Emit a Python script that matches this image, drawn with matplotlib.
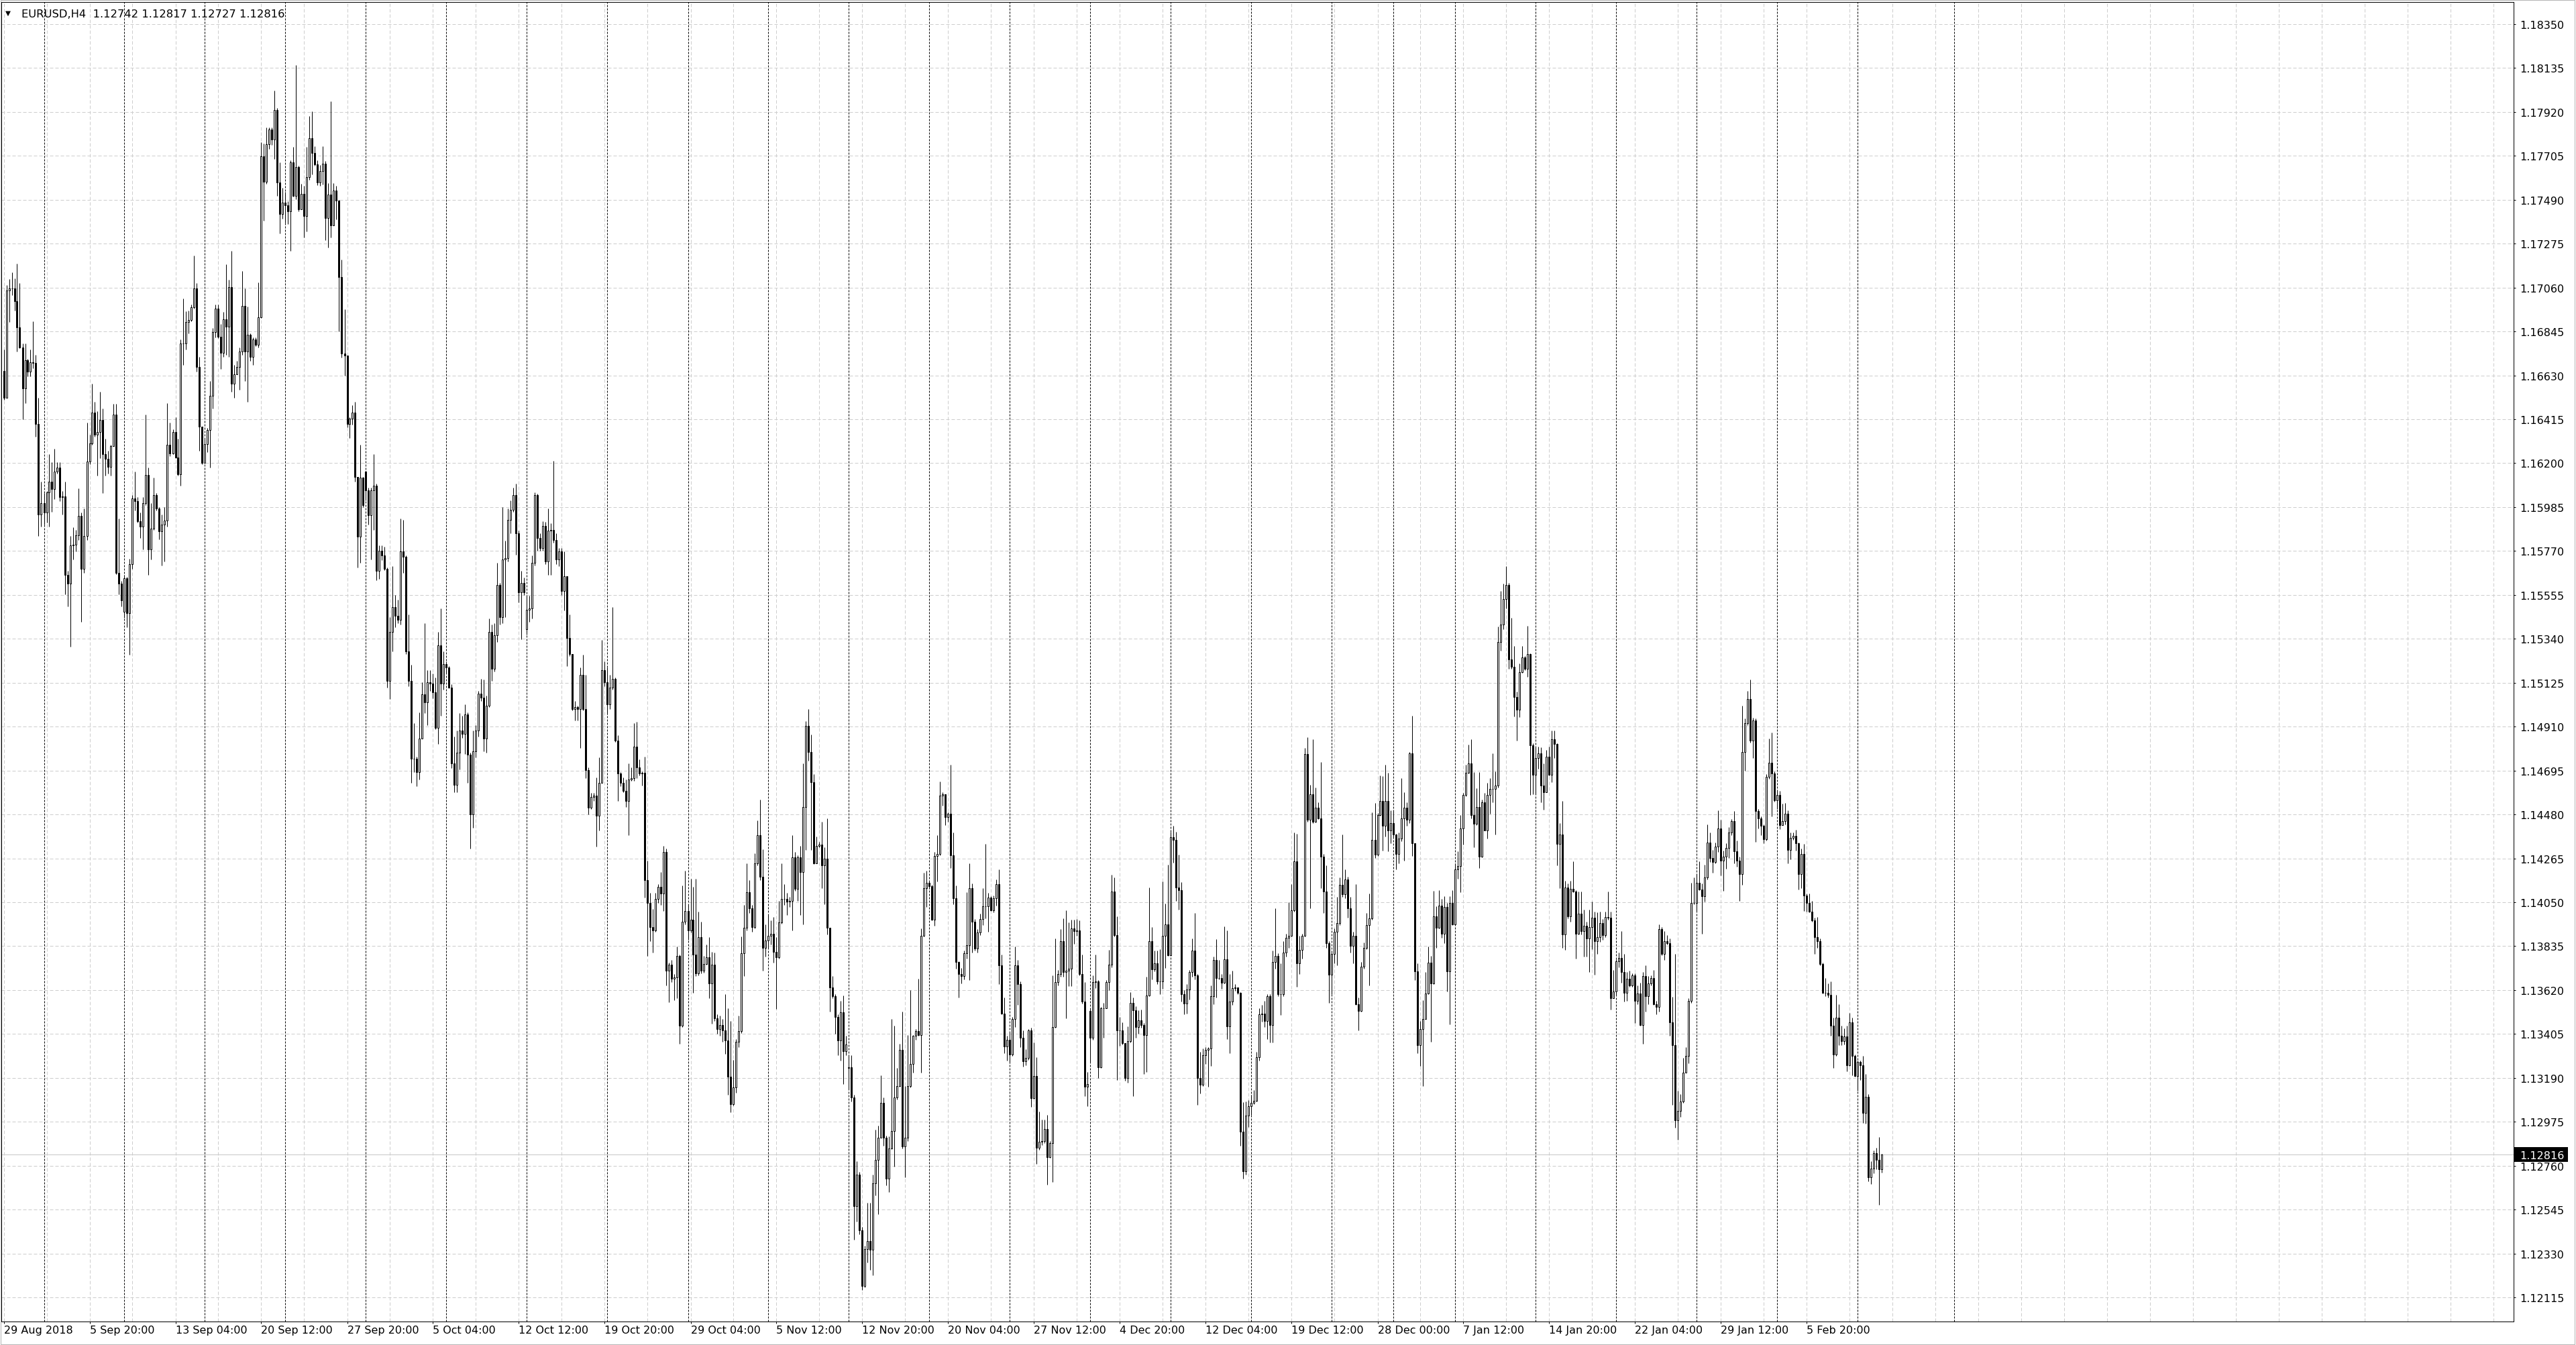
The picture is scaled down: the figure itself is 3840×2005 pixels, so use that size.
import matplotlib
matplotlib.use("Agg")
import matplotlib.pyplot as plt
import matplotlib.transforms as mtransforms
from matplotlib.patches import Rectangle
import numpy as np

plt.rcParams['font.family'] = ['DejaVu Sans']

#=== data (EURUSD H4, 29 Aug 2018 12:00 onwards) ===
symbol = "EURUSD,H4"
first_open = 1.16653

closes = [
    1.16520, 1.17047, 1.17057, 1.17057, 1.16992, 1.16866, 1.16767, 1.16567, 1.16704, 1.16647,
    1.16695, 1.16691, 1.16392, 1.15948, 1.16005, 1.15958, 1.16057, 1.16110, 1.16072, 1.16158,
    1.16180, 1.16034, 1.16038, 1.15653, 1.15611, 1.15796, 1.15801, 1.15847, 1.15942, 1.15681,
    1.15843, 1.16209, 1.16297, 1.16449, 1.16339, 1.16354, 1.16411, 1.16243, 1.16220, 1.16182,
    1.16285, 1.16438, 1.15662, 1.15611, 1.15529, 1.15638, 1.15466, 1.15706, 1.16028, 1.16015,
    1.15916, 1.15891, 1.16005, 1.16142, 1.15777, 1.15878, 1.16043, 1.15977, 1.15866, 1.15900,
    1.15919, 1.16289, 1.16247, 1.16354, 1.16228, 1.16144, 1.16786, 1.16786, 1.16891, 1.16901,
    1.16963, 1.17057, 1.16672, 1.16380, 1.16200, 1.16295, 1.16361, 1.16529, 1.16843, 1.16958,
    1.16819, 1.16739, 1.16904, 1.16868, 1.17062, 1.16590, 1.16634, 1.16672, 1.16748, 1.16969,
    1.16748, 1.16828, 1.16720, 1.16805, 1.16781, 1.16914, 1.17701, 1.17577, 1.17762, 1.17834,
    1.17786, 1.17929, 1.17573, 1.17421, 1.17476, 1.17463, 1.17434, 1.17672, 1.17510, 1.17649,
    1.17443, 1.17520, 1.17409, 1.17600, 1.17790, 1.17720, 1.17663, 1.17573, 1.17630, 1.17667,
    1.17401, 1.17515, 1.17365, 1.17534, 1.17486, 1.17112, 1.16738, 1.16726, 1.16393, 1.16419,
    1.16448, 1.16134, 1.15840, 1.16129, 1.15994, 1.16067, 1.15946, 1.16067, 1.16091, 1.15671,
    1.15772, 1.15748, 1.15681, 1.15133, 1.15374, 1.15495, 1.15454, 1.15434, 1.15767, 1.15743,
    1.15278, 1.15133, 1.14754, 1.14754, 1.14686, 1.14850, 1.15068, 1.15029, 1.15126, 1.15121,
    1.15077, 1.14904, 1.15309, 1.15121, 1.15217, 1.15198, 1.15101, 1.14730, 1.14626, 1.14783,
    1.14892, 1.14875, 1.14971, 1.14771, 1.14481, 1.14788, 1.14892, 1.15072, 1.15053, 1.14850,
    1.15012, 1.15374, 1.15193, 1.15357, 1.15603, 1.15447, 1.15729, 1.15736, 1.15922, 1.15970,
    1.16043, 1.15857, 1.15567, 1.15615, 1.15567, 1.15483, 1.15488, 1.15712, 1.16043, 1.15833,
    1.15784, 1.15893, 1.15719, 1.15869, 1.15874, 1.15825, 1.15729, 1.15767, 1.15574, 1.15647,
    1.15343, 1.15266, 1.14995, 1.15005, 1.14995, 1.15164, 1.14995, 1.14698, 1.14513, 1.14566,
    1.14571, 1.14474, 1.14633, 1.15188, 1.15126, 1.15019, 1.15101, 1.15145, 1.14843, 1.14682,
    1.14633, 1.14595, 1.14546, 1.14650, 1.14657, 1.14812, 1.14709, 1.14680, 1.14684, 1.14158,
    1.14047, 1.13930, 1.13911, 1.14067, 1.14125, 1.14092, 1.14295, 1.13716, 1.13745, 1.13677,
    1.13683, 1.13788, 1.13444, 1.13956, 1.14008, 1.13911, 1.13964, 1.13794, 1.13703, 1.13878,
    1.13716, 1.13749, 1.13780, 1.13652, 1.13745, 1.13483, 1.13430, 1.13449, 1.13424, 1.13372,
    1.13196, 1.13060, 1.13142, 1.13366, 1.13418, 1.13800, 1.13925, 1.14100, 1.14022, 1.13930,
    1.14242, 1.14378, 1.14174, 1.13827, 1.13862, 1.13886, 1.13897, 1.13806, 1.13780, 1.13950,
    1.14067, 1.14067, 1.14053, 1.14057, 1.14271, 1.14115, 1.14271, 1.14197, 1.14515, 1.14914,
    1.14787, 1.14637, 1.14242, 1.14326, 1.14334, 1.14232, 1.14262, 1.13925, 1.13632, 1.13590,
    1.13488, 1.13372, 1.13512, 1.13321, 1.13352, 1.13243, 1.13093, 1.12561, 1.12717, 1.12445,
    1.12172, 1.12353, 1.12392, 1.12347, 1.12674, 1.12787, 1.12898, 1.13068, 1.12898, 1.12698,
    1.12846, 1.12931, 1.13093, 1.13151, 1.13327, 1.12854, 1.12898, 1.13151, 1.13259, 1.13395,
    1.13418, 1.13399, 1.13886, 1.14119, 1.14145, 1.14129, 1.13964, 1.14275, 1.14287, 1.14573,
    1.14579, 1.14466, 1.14482, 1.14281, 1.14069, 1.13758, 1.13700, 1.13690, 1.13799, 1.13839,
    1.14118, 1.13956, 1.13824, 1.13902, 1.13967, 1.14030, 1.14030, 1.14074, 1.14011, 1.14069,
    1.14140, 1.13741, 1.13506, 1.13345, 1.13377, 1.13304, 1.13477, 1.13741, 1.13649, 1.13385,
    1.13272, 1.13289, 1.13421, 1.13092, 1.13199, 1.12847, 1.12876, 1.12879, 1.12941, 1.12803,
    1.12872, 1.13439, 1.13659, 1.13697, 1.13861, 1.13707, 1.13714, 1.13726, 1.13923, 1.13908,
    1.13912, 1.13700, 1.13565, 1.13146, 1.13160, 1.13385, 1.13659, 1.13663, 1.13243, 1.13531,
    1.13531, 1.13659, 1.13744, 1.14103, 1.13890, 1.13424, 1.13421, 1.13360, 1.13190, 1.13370,
    1.13556, 1.13521, 1.13439, 1.13473, 1.13448, 1.13399, 1.13594, 1.13861, 1.13722, 1.13751,
    1.13663, 1.13663, 1.13887, 1.13942, 1.13791, 1.14367, 1.14356, 1.14122, 1.14110, 1.13600,
    1.13553, 1.13624, 1.13707, 1.13814, 1.13693, 1.13190, 1.13155, 1.13301, 1.13326, 1.13333,
    1.13590, 1.13766, 1.13678, 1.13678, 1.13656, 1.13770, 1.13443, 1.13565, 1.13629, 1.13634,
    1.13605, 1.12926, 1.12733, 1.13004, 1.13052, 1.13067, 1.13077, 1.13292, 1.13502, 1.13506,
    1.13468, 1.13591, 1.13449, 1.13758, 1.13787, 1.13599, 1.13599, 1.13803, 1.13876, 1.13887,
    1.14009, 1.14249, 1.13750, 1.13817, 1.13887, 1.14775, 1.14453, 1.14579, 1.14445, 1.14512,
    1.14462, 1.14272, 1.14102, 1.13850, 1.13696, 1.13797, 1.13904, 1.13947, 1.14135, 1.14088,
    1.14160, 1.14021, 1.13837, 1.13887, 1.13552, 1.13519, 1.13733, 1.13825, 1.13937, 1.13971,
    1.14356, 1.14282, 1.14478, 1.14545, 1.14423, 1.14545, 1.14400, 1.14436, 1.14383, 1.14286,
    1.14361, 1.14462, 1.14512, 1.14453, 1.14780, 1.14339, 1.13713, 1.13351, 1.13428, 1.13479,
    1.13603, 1.13753, 1.13653, 1.13981, 1.13926, 1.14035, 1.13897, 1.14026, 1.13713, 1.14048,
    1.13942, 1.14210, 1.14227, 1.14411, 1.14574, 1.14684, 1.14729, 1.14478, 1.14433, 1.14517,
    1.14272, 1.14540, 1.14403, 1.14574, 1.14604, 1.14604, 1.14621, 1.15324, 1.15411, 1.15533,
    1.15605, 1.15240, 1.15203, 1.15056, 1.14992, 1.15177, 1.15249, 1.15193, 1.15265, 1.14818,
    1.14674, 1.14755, 1.14780, 1.14621, 1.14590, 1.14763, 1.14674, 1.14847, 1.14825, 1.14336,
    1.14383, 1.13892, 1.14122, 1.13981, 1.14115, 1.14102, 1.13897, 1.13993, 1.13909, 1.13934,
    1.13872, 1.13930, 1.13973, 1.13860, 1.13878, 1.13948, 1.13890, 1.13978, 1.13973, 1.13579,
    1.13614, 1.13762, 1.13776, 1.13709, 1.13608, 1.13674, 1.13644, 1.13691, 1.13568, 1.13603,
    1.13450, 1.13688, 1.13591, 1.13652, 1.13679, 1.13550, 1.13538, 1.13920, 1.13797, 1.13860,
    1.13849, 1.13462, 1.13350, 1.12984, 1.13028, 1.13075, 1.13216, 1.13297, 1.13568, 1.14048,
    1.14048, 1.14145, 1.14113, 1.14078, 1.14171, 1.14342, 1.14268, 1.14247, 1.14321, 1.14412,
    1.14254, 1.14272, 1.14317, 1.14391, 1.14448, 1.14300, 1.14254, 1.14189, 1.14787, 1.14928,
    1.15046, 1.14840, 1.14940, 1.14497, 1.14462, 1.14423, 1.14360, 1.14664, 1.14734, 1.14682,
    1.14550, 1.14576, 1.14427, 1.14448, 1.14483, 1.14307, 1.14365, 1.14374, 1.14339, 1.14189,
    1.14286, 1.14083, 1.14048, 1.14004, 1.13960, 1.13878, 1.13860, 1.13749, 1.13608, 1.13608,
    1.13596, 1.13445, 1.13304, 1.13485, 1.13397, 1.13371, 1.13392, 1.13251, 1.13462, 1.13297,
    1.13199, 1.13269, 1.13251, 1.13019, 1.13098, 1.12702, 1.12746, 1.12822, 1.12790, 1.12742,
    1.12816,
]

highs = [
    1.16758, 1.17072, 1.17101, 1.17133, 1.17104, 1.17177, 1.17082, 1.16786, 1.16786, 1.16710,
    1.16758, 1.16895, 1.16729, 1.16520, 1.16110, 1.16053, 1.16063, 1.16243, 1.16205, 1.16272,
    1.16205, 1.16205, 1.16063, 1.16110, 1.15672, 1.15843, 1.15885, 1.15872, 1.16076, 1.15958,
    1.15977, 1.16400, 1.16339, 1.16590, 1.16501, 1.16453, 1.16548, 1.16468, 1.16320, 1.16262,
    1.16291, 1.16491, 1.16491, 1.15929, 1.15624, 1.15653, 1.15643, 1.15733, 1.16043, 1.16158,
    1.16034, 1.15958, 1.16034, 1.16438, 1.16177, 1.16005, 1.16129, 1.16053, 1.15986, 1.15948,
    1.15986, 1.16495, 1.16400, 1.16367, 1.16424, 1.16320, 1.16805, 1.17005, 1.16944, 1.16948,
    1.16977, 1.17215, 1.17082, 1.16720, 1.16380, 1.16320, 1.16373, 1.16601, 1.16862, 1.16977,
    1.16977, 1.16882, 1.16939, 1.17173, 1.17097, 1.17238, 1.16681, 1.16701, 1.16767, 1.17142,
    1.17057, 1.16967, 1.16834, 1.16815, 1.16815, 1.17085, 1.17771, 1.17764, 1.17844, 1.17844,
    1.17844, 1.18025, 1.17939, 1.17672, 1.17548, 1.17529, 1.17482, 1.17682, 1.17748, 1.18148,
    1.17657, 1.17567, 1.17558, 1.17748, 1.17901, 1.17924, 1.17752, 1.17682, 1.17660, 1.17751,
    1.17679, 1.17570, 1.17973, 1.17570, 1.17558, 1.17490, 1.17196, 1.16955, 1.16726, 1.16424,
    1.16484, 1.16501, 1.16134, 1.16291, 1.16134, 1.16163, 1.16081, 1.16081, 1.16243, 1.16098,
    1.15796, 1.15796, 1.15792, 1.15688, 1.15447, 1.15695, 1.15555, 1.15531, 1.15929, 1.15922,
    1.15748, 1.15459, 1.15212, 1.14928, 1.14764, 1.14981, 1.15126, 1.15415, 1.15188, 1.15188,
    1.15169, 1.15150, 1.15374, 1.15488, 1.15278, 1.15229, 1.15205, 1.15116, 1.14860, 1.14892,
    1.14976, 1.14964, 1.15019, 1.14981, 1.14783, 1.14892, 1.14916, 1.15084, 1.15145, 1.15140,
    1.15060, 1.15439, 1.15410, 1.15415, 1.15712, 1.15615, 1.15985, 1.15821, 1.15977, 1.16018,
    1.16081, 1.16098, 1.15869, 1.15671, 1.15640, 1.15555, 1.15550, 1.15748, 1.16057, 1.16050,
    1.15857, 1.15917, 1.15912, 1.15977, 1.15905, 1.16212, 1.15857, 1.15784, 1.15784, 1.15767,
    1.15647, 1.15459, 1.15266, 1.15036, 1.15012, 1.15198, 1.15261, 1.15164, 1.14711, 1.14585,
    1.14585, 1.14662, 1.14759, 1.15333, 1.15229, 1.15198, 1.15164, 1.15495, 1.15150, 1.14867,
    1.14686, 1.14662, 1.14650, 1.14730, 1.14711, 1.14928, 1.14933, 1.14748, 1.14690, 1.14762,
    1.14252, 1.14096, 1.14018, 1.14096, 1.14139, 1.14197, 1.14326, 1.14314, 1.13755, 1.13769,
    1.13697, 1.13833, 1.13794, 1.14131, 1.14203, 1.14041, 1.14164, 1.14125, 1.14164, 1.14003,
    1.13956, 1.13788, 1.13843, 1.13878, 1.13806, 1.13804, 1.13502, 1.13496, 1.13477, 1.13599,
    1.13531, 1.13469, 1.13278, 1.13379, 1.13496, 1.13882, 1.14038, 1.14242, 1.14158, 1.14038,
    1.14291, 1.14450, 1.14554, 1.14310, 1.13940, 1.13989, 1.13960, 1.13979, 1.13878, 1.14057,
    1.14242, 1.14139, 1.14096, 1.14077, 1.14378, 1.14295, 1.14281, 1.14326, 1.14729, 1.14937,
    1.14996, 1.14871, 1.14676, 1.14373, 1.14345, 1.14443, 1.14320, 1.14462, 1.13925, 1.13687,
    1.13599, 1.13502, 1.13566, 1.13594, 1.13395, 1.13301, 1.13301, 1.13107, 1.12781, 1.12729,
    1.12460, 1.12367, 1.12577, 1.12577, 1.12717, 1.12937, 1.12957, 1.13204, 1.13093, 1.12908,
    1.12904, 1.13477, 1.13444, 1.13239, 1.13356, 1.13516, 1.13151, 1.13399, 1.13619, 1.13399,
    1.13430, 1.13677, 1.13921, 1.14193, 1.14203, 1.14154, 1.14135, 1.14295, 1.14378, 1.14641,
    1.14587, 1.14579, 1.14489, 1.14723, 1.14392, 1.14132, 1.13761, 1.13729, 1.13814, 1.14098,
    1.14242, 1.14142, 1.13967, 1.13920, 1.13993, 1.14118, 1.14337, 1.14096, 1.14081, 1.14084,
    1.14162, 1.14210, 1.13795, 1.13585, 1.13395, 1.13414, 1.13487, 1.13832, 1.13766, 1.13663,
    1.13424, 1.13330, 1.13429, 1.13436, 1.13363, 1.13292, 1.13026, 1.12985, 1.12985, 1.13008,
    1.12879, 1.13693, 1.13873, 1.13717, 1.13917, 1.13971, 1.14011, 1.13952, 1.13964, 1.13964,
    1.13967, 1.13961, 1.13795, 1.13659, 1.13219, 1.13531, 1.13693, 1.13795, 1.13668, 1.13539,
    1.13556, 1.13668, 1.13817, 1.14183, 1.14172, 1.13981, 1.13487, 1.13462, 1.13360, 1.13443,
    1.13609, 1.13583, 1.13542, 1.13521, 1.13524, 1.13458, 1.13685, 1.14122, 1.13927, 1.13814,
    1.13814, 1.13820, 1.14151, 1.14044, 1.14235, 1.14396, 1.14425, 1.14396, 1.14283, 1.14147,
    1.13619, 1.13649, 1.13717, 1.13873, 1.13996, 1.13700, 1.13316, 1.13333, 1.13341, 1.13341,
    1.13641, 1.13785, 1.13868, 1.13766, 1.13700, 1.13931, 1.13912, 1.13697, 1.13714, 1.13649,
    1.13634, 1.13609, 1.13070, 1.13073, 1.13081, 1.13106, 1.13131, 1.13316, 1.13531, 1.13546,
    1.13568, 1.13600, 1.13599, 1.13814, 1.14021, 1.13800, 1.13750, 1.13859, 1.13897, 1.14051,
    1.14138, 1.14390, 1.14386, 1.13887, 1.13897, 1.14805, 1.14858, 1.14624, 1.14847, 1.14612,
    1.14540, 1.14738, 1.14286, 1.14232, 1.13859, 1.13814, 1.13921, 1.14076, 1.14172, 1.14383,
    1.14210, 1.14175, 1.14076, 1.13904, 1.14138, 1.13582, 1.13758, 1.13854, 1.13998, 1.14093,
    1.14490, 1.14537, 1.14487, 1.14671, 1.14668, 1.14724, 1.14684, 1.14500, 1.14500, 1.14386,
    1.14390, 1.14657, 1.14590, 1.14540, 1.14785, 1.14964, 1.14339, 1.13750, 1.13469, 1.13569,
    1.13708, 1.13834, 1.13787, 1.14105, 1.14031, 1.14110, 1.14065, 1.14081, 1.14048, 1.14081,
    1.14110, 1.14240, 1.14299, 1.14478, 1.14584, 1.14724, 1.14822, 1.14847, 1.14688, 1.14607,
    1.14688, 1.14554, 1.14584, 1.14634, 1.14657, 1.14780, 1.14691, 1.15399, 1.15575, 1.15609,
    1.15696, 1.15612, 1.15444, 1.15304, 1.15081, 1.15220, 1.15304, 1.15254, 1.15404, 1.15270,
    1.14830, 1.14813, 1.14813, 1.14808, 1.14729, 1.14796, 1.14813, 1.14892, 1.14892, 1.14830,
    1.14436, 1.14545, 1.14155, 1.14143, 1.14155, 1.14249, 1.14110, 1.14102, 1.14102, 1.14013,
    1.13955, 1.14013, 1.14054, 1.14004, 1.14001, 1.14004, 1.13969, 1.14004, 1.14101, 1.14004,
    1.13719, 1.13772, 1.13802, 1.13908, 1.13797, 1.13709, 1.13714, 1.13702, 1.13702, 1.13644,
    1.13656, 1.13709, 1.13740, 1.13688, 1.13691, 1.13719, 1.13568, 1.13943, 1.13930, 1.13908,
    1.13890, 1.13872, 1.13586, 1.13797, 1.13128, 1.13111, 1.13287, 1.13339, 1.13579, 1.14145,
    1.14171, 1.14189, 1.14251, 1.14142, 1.14233, 1.14430, 1.14391, 1.14307, 1.14342, 1.14500,
    1.14453, 1.14303, 1.14339, 1.14418, 1.14458, 1.14497, 1.14353, 1.14272, 1.15011, 1.14951,
    1.15086, 1.15139, 1.14954, 1.14951, 1.14506, 1.14471, 1.14430, 1.14676, 1.14852, 1.14880,
    1.14690, 1.14599, 1.14594, 1.14532, 1.14536, 1.14500, 1.14391, 1.14391, 1.14405, 1.14342,
    1.14312, 1.14335, 1.14092, 1.14092, 1.14057, 1.13973, 1.13978, 1.13872, 1.13754, 1.13679,
    1.13652, 1.13661, 1.13485, 1.13596, 1.13550, 1.13445, 1.13433, 1.13445, 1.13508, 1.13485,
    1.13304, 1.13274, 1.13274, 1.13297, 1.13209, 1.13111, 1.12782, 1.12834, 1.12847, 1.12899,
    1.12817,
]

lows = [
    1.16510, 1.16615, 1.16891, 1.17024, 1.16948, 1.16748, 1.16763, 1.16415, 1.16495, 1.16624,
    1.16624, 1.16666, 1.16329, 1.15843, 1.15891, 1.15900, 1.15910, 1.15891, 1.15961, 1.16024,
    1.16148, 1.16015, 1.15948, 1.15557, 1.15500, 1.15300, 1.15729, 1.15767, 1.15824, 1.15424,
    1.15662, 1.15824, 1.16196, 1.16291, 1.16329, 1.16139, 1.16224, 1.16053, 1.16139, 1.16148,
    1.16139, 1.16282, 1.15657, 1.15558, 1.15500, 1.15443, 1.15396, 1.15262, 1.15681, 1.15967,
    1.15910, 1.15834, 1.15777, 1.15996, 1.15653, 1.15729, 1.15872, 1.15967, 1.15828, 1.15700,
    1.15719, 1.15891, 1.16234, 1.16243, 1.16224, 1.16139, 1.16091, 1.16681, 1.16758, 1.16834,
    1.16895, 1.16958, 1.16647, 1.16259, 1.16196, 1.16205, 1.16253, 1.16177, 1.16468, 1.16815,
    1.16811, 1.16662, 1.16720, 1.16729, 1.16720, 1.16548, 1.16520, 1.16634, 1.16558, 1.16729,
    1.16601, 1.16501, 1.16701, 1.16681, 1.16773, 1.16767, 1.16910, 1.17386, 1.17567, 1.17739,
    1.17758, 1.17691, 1.17510, 1.17325, 1.17396, 1.17377, 1.17371, 1.17238, 1.17505, 1.17491,
    1.17434, 1.17453, 1.17306, 1.17333, 1.17586, 1.17615, 1.17657, 1.17562, 1.17558, 1.17563,
    1.17293, 1.17256, 1.17305, 1.17377, 1.17394, 1.16846, 1.16718, 1.16629, 1.16376, 1.16323,
    1.16388, 1.16110, 1.15688, 1.15712, 1.15985, 1.16018, 1.15898, 1.15729, 1.15874, 1.15628,
    1.15632, 1.15724, 1.15676, 1.15101, 1.15044, 1.15278, 1.15398, 1.15415, 1.15410, 1.15664,
    1.15266, 1.15109, 1.14633, 1.14686, 1.14619, 1.14650, 1.14855, 1.14976, 1.14916, 1.15085,
    1.15048, 1.14899, 1.14826, 1.14964, 1.15092, 1.15169, 1.15097, 1.14706, 1.14590, 1.14590,
    1.14699, 1.14855, 1.14776, 1.14633, 1.14312, 1.14416, 1.14759, 1.14860, 1.15036, 1.14788,
    1.14783, 1.15005, 1.15133, 1.15181, 1.15326, 1.15410, 1.15415, 1.15447, 1.15719, 1.15857,
    1.15960, 1.15753, 1.15519, 1.15338, 1.15555, 1.15362, 1.15422, 1.15439, 1.15700, 1.15772,
    1.15772, 1.15772, 1.15705, 1.15652, 1.15652, 1.15809, 1.15705, 1.15695, 1.15555, 1.15478,
    1.15205, 1.15254, 1.14988, 1.14940, 1.14940, 1.14807, 1.14988, 1.14657, 1.14481, 1.14505,
    1.14546, 1.14324, 1.14402, 1.14633, 1.15109, 1.14971, 1.14995, 1.15092, 1.14836, 1.14546,
    1.14619, 1.14590, 1.14517, 1.14378, 1.14643, 1.14643, 1.14657, 1.14670, 1.14622, 1.14073,
    1.13788, 1.13858, 1.13804, 1.13905, 1.14047, 1.14038, 1.14008, 1.13644, 1.13560, 1.13658,
    1.13570, 1.13580, 1.13356, 1.13438, 1.13940, 1.13866, 1.13901, 1.13605, 1.13687, 1.13691,
    1.13703, 1.13706, 1.13745, 1.13580, 1.13457, 1.13469, 1.13405, 1.13395, 1.13366, 1.13307,
    1.13107, 1.13021, 1.13054, 1.13118, 1.13340, 1.13410, 1.13687, 1.13911, 1.13999, 1.13905,
    1.13921, 1.14232, 1.14158, 1.13716, 1.13784, 1.13823, 1.13843, 1.13755, 1.13527, 1.13775,
    1.13944, 1.14038, 1.13989, 1.14028, 1.13911, 1.14106, 1.14057, 1.13989, 1.13940, 1.14306,
    1.14743, 1.14306, 1.14236, 1.14242, 1.14320, 1.14119, 1.14041, 1.13891, 1.13516, 1.13580,
    1.13405, 1.13301, 1.13274, 1.13161, 1.13301, 1.13132, 1.13074, 1.12398, 1.12488, 1.12425,
    1.12152, 1.12164, 1.12285, 1.12250, 1.12223, 1.12616, 1.12522, 1.12898, 1.12859, 1.12665,
    1.12632, 1.12840, 1.12756, 1.13083, 1.13146, 1.12846, 1.12704, 1.12879, 1.13142, 1.13216,
    1.13375, 1.13395, 1.13216, 1.13882, 1.14028, 1.14115, 1.13960, 1.13936, 1.14151, 1.14281,
    1.14524, 1.14427, 1.14443, 1.14217, 1.14040, 1.13726, 1.13583, 1.13653, 1.13673, 1.13773,
    1.13668, 1.13802, 1.13814, 1.13805, 1.13890, 1.13937, 1.13971, 1.13905, 1.14008, 1.14000,
    1.14034, 1.13649, 1.13502, 1.13311, 1.13275, 1.13263, 1.13297, 1.13439, 1.13546, 1.13341,
    1.13245, 1.13253, 1.13278, 1.13048, 1.13087, 1.12769, 1.12838, 1.12862, 1.12872, 1.12667,
    1.12798, 1.12681, 1.13436, 1.13644, 1.13685, 1.13685, 1.13483, 1.13638, 1.13638, 1.13846,
    1.13887, 1.13693, 1.13553, 1.13102, 1.13052, 1.13267, 1.13377, 1.13629, 1.13190, 1.13238,
    1.13385, 1.13531, 1.13619, 1.13732, 1.13883, 1.13180, 1.13348, 1.13355, 1.13175, 1.13165,
    1.13363, 1.13102, 1.13385, 1.13407, 1.13436, 1.13209, 1.13219, 1.13590, 1.13671, 1.13712,
    1.13649, 1.13600, 1.13627, 1.13729, 1.13788, 1.13898, 1.14245, 1.14055, 1.14015, 1.13565,
    1.13502, 1.13506, 1.13575, 1.13685, 1.13673, 1.13058, 1.13114, 1.13150, 1.13257, 1.13146,
    1.13248, 1.13550, 1.13583, 1.13673, 1.13627, 1.13653, 1.13380, 1.13311, 1.13546, 1.13615,
    1.13600, 1.12857, 1.12696, 1.12715, 1.12949, 1.13008, 1.13062, 1.13073, 1.13275, 1.13465,
    1.13439, 1.13380, 1.13365, 1.13365, 1.13725, 1.13591, 1.13499, 1.13591, 1.13783, 1.13825,
    1.13884, 1.14004, 1.13636, 1.13700, 1.13775, 1.13884, 1.14445, 1.14021, 1.14436, 1.14440,
    1.14457, 1.14118, 1.13998, 1.13825, 1.13557, 1.13599, 1.13750, 1.13742, 1.13937, 1.14076,
    1.14071, 1.13976, 1.13803, 1.13750, 1.13549, 1.13423, 1.13515, 1.13725, 1.13820, 1.13641,
    1.13964, 1.14266, 1.14277, 1.14473, 1.14302, 1.14373, 1.14299, 1.14339, 1.14366, 1.14210,
    1.14239, 1.14349, 1.14252, 1.14423, 1.14436, 1.14277, 1.13670, 1.13311, 1.13248, 1.13150,
    1.13479, 1.13599, 1.13368, 1.13649, 1.13825, 1.13921, 1.13875, 1.13850, 1.13613, 1.13452,
    1.13937, 1.13964, 1.14165, 1.14098, 1.14333, 1.14570, 1.14680, 1.14462, 1.14319, 1.14428,
    1.14219, 1.14269, 1.14400, 1.14361, 1.14483, 1.14540, 1.14383, 1.14612, 1.15282, 1.15388,
    1.15488, 1.15193, 1.15193, 1.14959, 1.14842, 1.14956, 1.15173, 1.15187, 1.15153, 1.14574,
    1.14579, 1.14579, 1.14704, 1.14540, 1.14503, 1.14587, 1.14671, 1.14637, 1.14755, 1.14232,
    1.14118, 1.13825, 1.13817, 1.13971, 1.13954, 1.14098, 1.13775, 1.13892, 1.13892, 1.13784,
    1.13784, 1.13709, 1.13820, 1.13696, 1.13797, 1.13855, 1.13867, 1.13878, 1.13966, 1.13526,
    1.13579, 1.13596, 1.13732, 1.13656, 1.13564, 1.13568, 1.13635, 1.13635, 1.13459, 1.13550,
    1.13445, 1.13357, 1.13515, 1.13550, 1.13644, 1.13547, 1.13503, 1.13515, 1.13790, 1.13767,
    1.13842, 1.13397, 1.13058, 1.12945, 1.12887, 1.12998, 1.13068, 1.13216, 1.13262, 1.13556,
    1.14040, 1.14004, 1.14110, 1.13895, 1.14054, 1.14160, 1.14247, 1.14194, 1.14242, 1.14295,
    1.14180, 1.14106, 1.14215, 1.14268, 1.14377, 1.14242, 1.14224, 1.14057, 1.14136, 1.14694,
    1.14916, 1.14831, 1.14757, 1.14347, 1.14412, 1.14377, 1.14339, 1.14353, 1.14655, 1.14471,
    1.14541, 1.14506, 1.14409, 1.14427, 1.14430, 1.14242, 1.14259, 1.14356, 1.14303, 1.14113,
    1.14119, 1.14008, 1.14004, 1.14001, 1.13955, 1.13797, 1.13828, 1.13740, 1.13603, 1.13591,
    1.13582, 1.13397, 1.13239, 1.13297, 1.13350, 1.13350, 1.13353, 1.13221, 1.13248, 1.13204,
    1.13195, 1.13128, 1.13181, 1.12970, 1.12966, 1.12685, 1.12671, 1.12724, 1.12741, 1.12570,
    1.12727,
]

# Monday bars that opened away from the previous close
gap_opens = {45: 1.15472, 135: 1.16158, 195: 1.15386, 315: 1.13239, 405: 1.13518}

date_labels = ["29 Aug 2018", "5 Sep 20:00", "13 Sep 04:00", "20 Sep 12:00", "27 Sep 20:00",
               "5 Oct 04:00", "12 Oct 12:00", "19 Oct 20:00", "29 Oct 04:00", "5 Nov 12:00",
               "12 Nov 20:00", "20 Nov 04:00", "27 Nov 12:00", "4 Dec 20:00", "12 Dec 04:00",
               "19 Dec 12:00", "28 Dec 00:00", "7 Jan 12:00", "14 Jan 20:00", "22 Jan 04:00",
               "29 Jan 12:00", "5 Feb 20:00"]

price_ticks = [1.12115, 1.12330, 1.12545, 1.12760, 1.12975, 1.13190, 1.13405, 1.13620,
               1.13835, 1.14050, 1.14265, 1.14480, 1.14695, 1.14910, 1.15125, 1.15340,
               1.15555, 1.15770, 1.15985, 1.16200, 1.16415, 1.16630, 1.16845, 1.17060,
               1.17275, 1.17490, 1.17705, 1.17920, 1.18135, 1.18350]

# first bar of each trading week (period separators)
week_starts = [15, 45, 75, 105, 135, 165, 195, 225, 255, 285, 315, 345, 375, 405, 435,
               465, 495, 518, 541, 571, 601, 631, 661, 691, 727]

opens = [first_open] + closes[:-1]
for k, v in gap_opens.items():
    opens[k] = v

o = np.array(opens)
c = np.array(closes)
x = np.arange(len(c))
bull = c >= o
bid = closes[-1]

#=== figure ===
W, H = 3840, 2006
PX = 0.72  # one pixel in points at dpi 100
fig = plt.figure(figsize=(W / 100, H / 100), dpi=100, facecolor='white')
ax = fig.add_axes([2 / W, 35 / H, 3745 / W, 1967 / H])
# 4 px per bar, bar centres on pixel centres
ax.set_xlim(-0.875, 935.375)
ax.set_ylim(1.11997, 1.18458)
for s in ax.spines.values():
    s.set_linewidth(PX)
    s.set_color('black')

grid_col = '#cdcdcd'
# price scale on the right
ax.yaxis.tick_right()
ax.set_yticks(price_ticks)
ax.set_yticklabels(["%.5f" % p for p in price_ticks])
ax.tick_params(axis='y', length=3 * PX, width=PX, pad=6 * PX, labelsize=11.5, colors='black')
ax.yaxis.grid(True, color=grid_col, linestyle=(0, (5, 3)), linewidth=PX)

# time scale
label_bars = np.arange(len(date_labels)) * 32
ax.set_xticks(label_bars)
ax.set_xticklabels(date_labels, ha='left')
ax.tick_params(axis='x', length=3 * PX, width=PX, pad=2.5 * PX, labelsize=11.5, colors='black')

xtr = ax.get_xaxis_transform()
ax.vlines(np.arange(0, 936, 16), 0, 1, transform=xtr, colors=grid_col,
          linestyles=(0, (5, 3)), linewidth=PX, zorder=0.5)
ax.vlines(week_starts, 0, 1, transform=xtr, colors='black',
          linestyles=(0, (3, 2)), linewidth=PX, zorder=1)
ax.set_axisbelow(True)

# bid line
ax.axhline(bid, color='#c8c8c8', linewidth=PX, zorder=1)

# candles
ax.vlines(x, lows, highs, colors='black', linewidth=PX, zorder=2)
ax.bar(x, c - o, bottom=o, width=0.5, color=np.where(bull, 'white', 'black'),
       edgecolor='black', linewidth=PX, zorder=3)

# current price box on the scale
btr = mtransforms.blended_transform_factory(ax.transAxes, ax.transData)
ax.add_patch(Rectangle((1.0003, bid - 0.00036), 0.0214, 0.00072, transform=btr,
                       facecolor='black', edgecolor='none', clip_on=False, zorder=10))
ax.text(1.0024, bid, "%.5f" % bid, transform=btr, color='white', fontsize=11.5,
        ha='left', va='center_baseline', clip_on=False, zorder=11)

# header
fig.text(8 / W, 1 - 23 / H, "\u25bc", fontsize=7.5, va='baseline')
fig.text(32 / W, 1 - 26 / H, "%s  %.5f %.5f %.5f %.5f" % (symbol, o[-1], highs[-1], lows[-1], c[-1]),
         fontsize=11.8, va='baseline')

# window frame
fig.add_artist(Rectangle((0.5 / W, 1.5 / H), (W - 3) / W, (H - 2.5) / H, transform=fig.transFigure,
                         fill=False, edgecolor='#b4b4b4', linewidth=PX))

fig.savefig('out.png', dpi=100, facecolor='white')
